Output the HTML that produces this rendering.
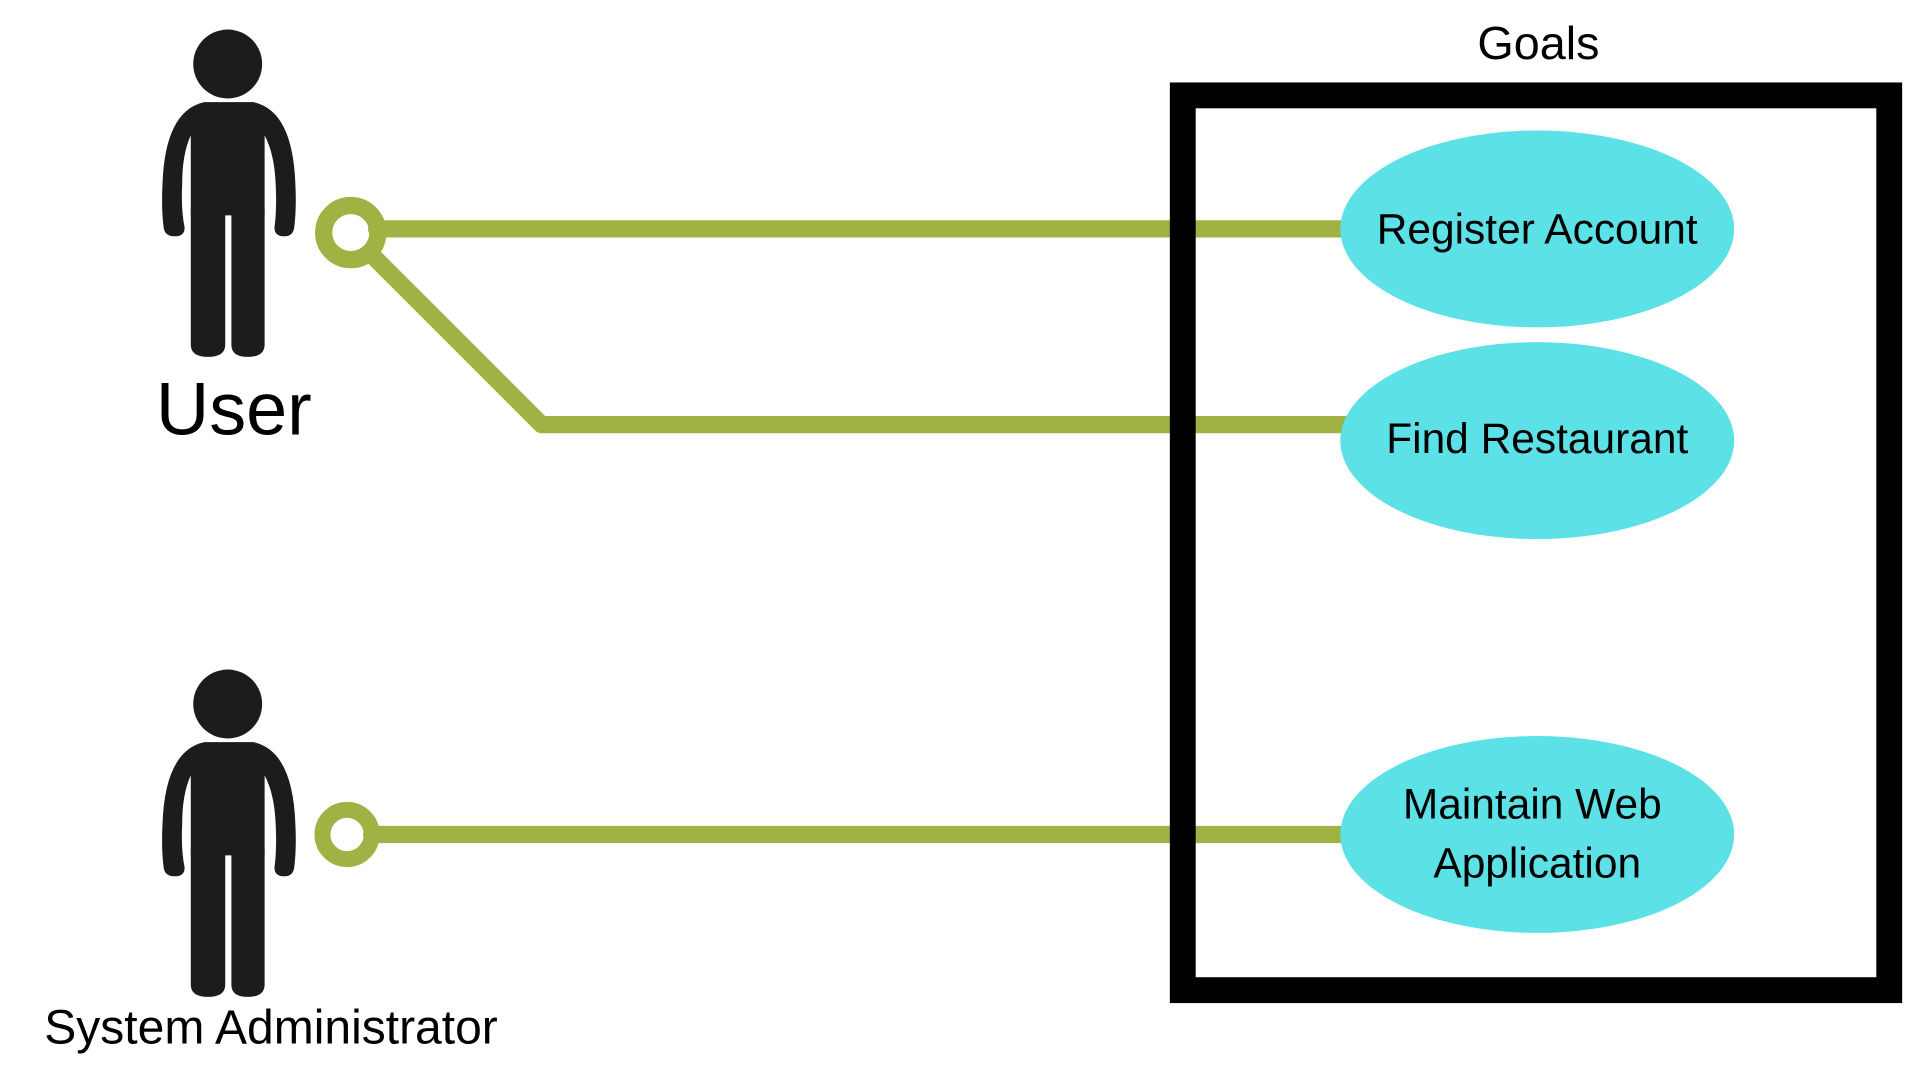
<!DOCTYPE html>
<html><head><meta charset="utf-8"><style>
html,body{margin:0;padding:0;background:#fff;}
svg{display:block;}
text{font-family:"Liberation Sans",sans-serif;fill:#000;}
</style></head><body>
<svg width="1920" height="1080" viewBox="0 0 1560 877.5" xmlns="http://www.w3.org/2000/svg">
<defs>
<g id="person" fill="#1e1b1c">
  <circle cx="185" cy="52" r="28"/>
  <path d="M166 83 L206 83 Q238 90 240 150 Q241 170 239 185 Q238 192 231 192 Q223 192 223 185 Q225 170 224 150 Q223 125 215 110 L215 175 L155 175 L155 110 Q148 125 148 150 Q147 170 150 185 Q150 192 142 192 Q134 192 133 185 Q131 170 132 150 Q134 90 166 83 Z"/>
  <path d="M155 170 L183 170 L183 280 Q183 290 169 290 Q155 290 155 280 Z"/>
  <path d="M188 170 L215 170 L215 280 Q215 290 201 290 Q188 290 188 280 Z"/>
</g>
</defs>
<use href="#person"/>
<use href="#person" transform="translate(0,520)"/>
<text x="190" y="353" font-size="60" text-anchor="middle">User</text>
<text x="36" y="848" font-size="39">System Administrator</text>
<text x="1250" y="48" font-size="38" text-anchor="middle">Goals</text>
<g stroke="#a0b243" stroke-width="14" fill="none" stroke-linecap="round" stroke-linejoin="round">
  <line x1="306" y1="186" x2="1095" y2="186"/>
  <polyline points="303,208 440,345 1095,345"/>
  <line x1="302" y1="678" x2="1095" y2="678"/>
  <circle cx="285" cy="189" r="22" stroke-width="14"/>
  <circle cx="282" cy="678" r="20" stroke-width="13"/>
</g>
<rect x="961" y="77.5" width="574" height="727" fill="none" stroke="#000" stroke-width="21"/>
<g fill="#5ce1e6">
  <ellipse cx="1249" cy="186" rx="160" ry="80"/>
  <ellipse cx="1249" cy="358" rx="160" ry="80"/>
  <ellipse cx="1249" cy="678" rx="160" ry="80"/>
</g>
<g font-size="34.5" text-anchor="middle">
  <text x="1249" y="198">Register Account</text>
  <text x="1249" y="368">Find Restaurant</text>
  <text x="1245" y="665">Maintain Web</text>
  <text x="1249" y="713">Application</text>
</g>
</svg>
</body></html>
